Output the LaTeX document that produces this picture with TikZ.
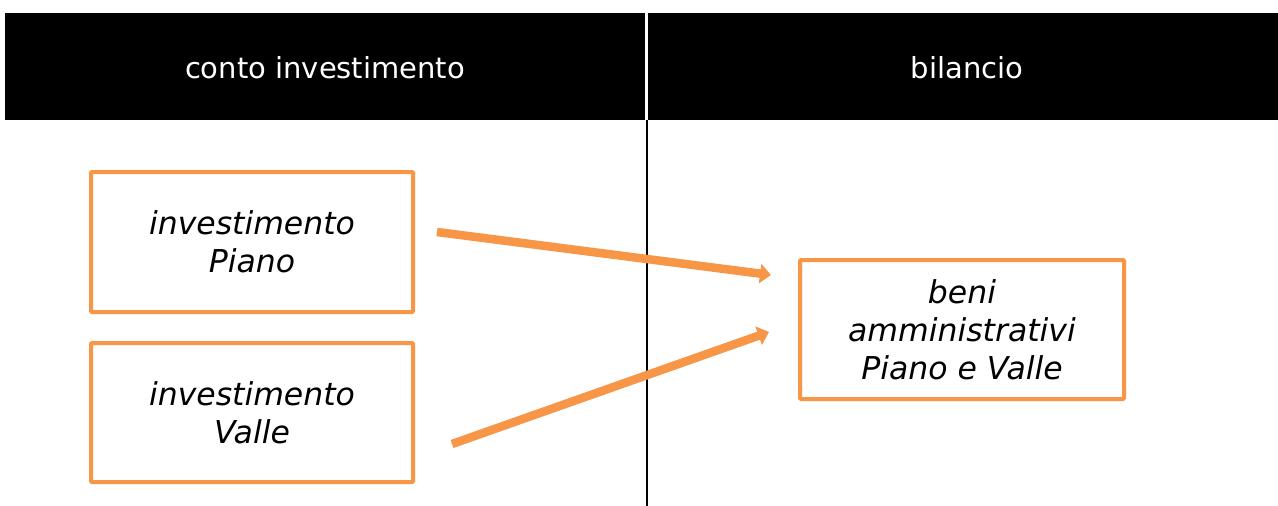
\documentclass[tikz,border=0pt]{standalone}
\usepackage{fontspec}
\setmainfont{DejaVu Sans}
\usetikzlibrary{arrows.meta}
\definecolor{orng}{HTML}{F79646}
\begin{document}
\begin{tikzpicture}[x=1pt,y=-1pt,
  hdr/.style={fill=black,draw=none,text=white,font=\fontsize{29}{34}\selectfont,inner sep=0pt},
  box/.style={draw=orng,line width=4pt,fill=white,align=center,font=\fontsize{31.5}{38}\selectfont\itshape,inner sep=0pt,rounded corners=1pt},
  arr/.style={draw=orng,line width=8.5pt,-{Triangle[length=11pt,width=19pt]}}]
\useasboundingbox (0,0) rectangle (1278,506);
\fill[white] (0,0) rectangle (1278,506);
% header
\fill[black] (5,13) rectangle (645,120);
\fill[black] (648,13) rectangle (1278,120);
\node[hdr] (h1) at (325,68) {conto investimento};
\node[hdr] (h2) at (967,68) {bilancio};
\draw[line width=1.5pt] (647,120) -- (647,506);
% boxes
\node[box,minimum width=322,minimum height=140] (b1) at (252,242) {investimento\\Piano};
\node[box,minimum width=322,minimum height=139] (b2) at (252,412.5) {investimento\\Valle};
\node[box,minimum width=324,minimum height=139] (b3) at (962,329.5) {beni\\amministrativi\\Piano e Valle};
% arrows
\coordinate (a1s) at (437,232);
\coordinate (a1e) at (771,275);
\coordinate (a2s) at (452,444);
\coordinate (a2e) at (769,332);
\draw[arr] (a1s) -- (a1e);
\draw[arr] (a2s) -- (a2e);
\end{tikzpicture}
\end{document}
